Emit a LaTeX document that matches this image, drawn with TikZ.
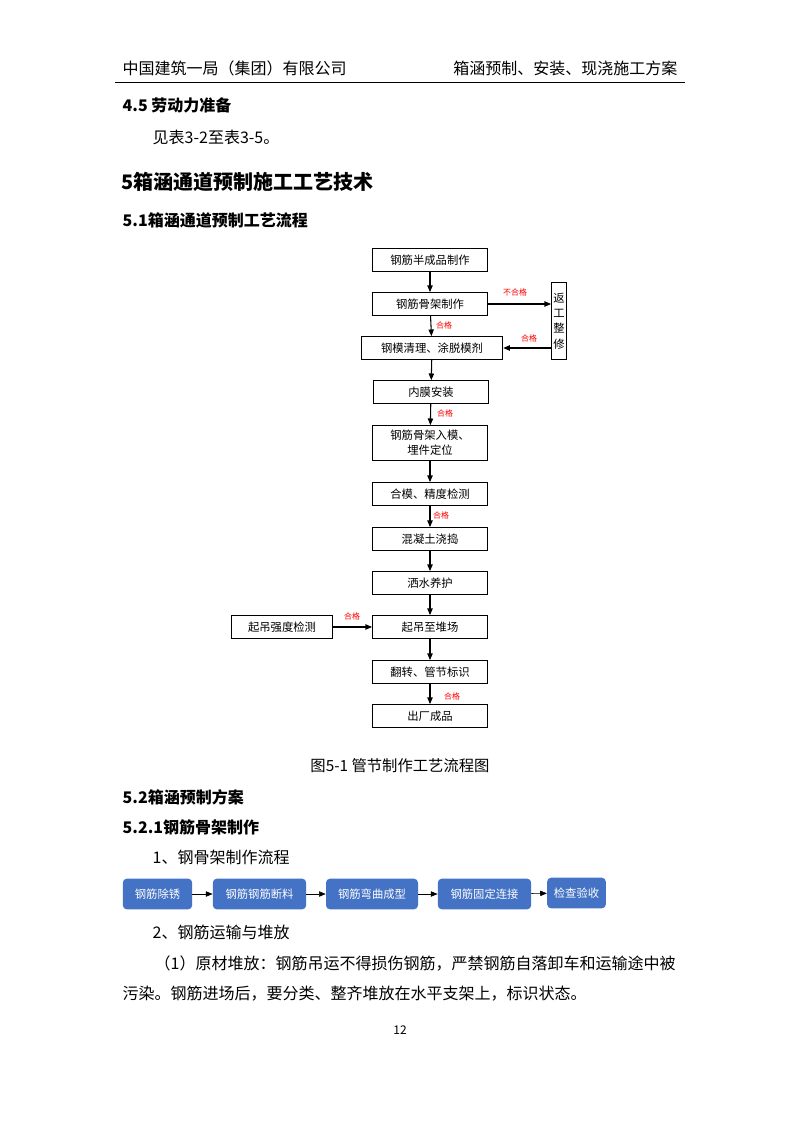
\documentclass[tikz,border=0pt]{standalone}
\usepackage{fontspec}
\setmainfont{Noto Sans CJK SC}
\usetikzlibrary{arrows.meta}
\definecolor{bx}{HTML}{4472C4}
\begin{document}
\begin{tikzpicture}[x=0.75pt,y=-0.75pt,
 fb/.style={draw,thick,minimum height=17pt,inner sep=1pt,font=\fontsize{8.5}{10}\selectfont},
 ok/.style={text=red,font=\fontsize{6}{7}\selectfont},
 ar/.style={-{Triangle[length=5pt,width=4pt]},thick},
 bb/.style={fill=bx,rounded corners=3pt,text=white,minimum height=23pt,inner sep=1pt,font=\fontsize{8.5}{10}\selectfont},
 body/.style={anchor=west,font=\fontsize{12}{14}\selectfont},
 hd/.style={anchor=west,font=\fontsize{12}{14}\selectfont\bfseries}]
\useasboundingbox (0,0) rectangle (800,1132);
\fill[white] (0,0) rectangle (800,1132);
\node[body] (h1) at (118,68) {中国建筑一局（集团）有限公司};
\node[body,anchor=east] (h2) at (682,68) {箱涵预制、安装、现浇施工方案};
\draw[thin] (115,82) -- (685,82);
\node[hd] (t1) at (118,105) {4.5 劳动力准备};
\node[body] (t2) at (148,137) {见表3-2至表3-5。};
\node[hd,font=\fontsize{15}{17}\selectfont\bfseries] (t3) at (117,182) {5箱涵通道预制施工工艺技术};
\node[hd] (t4) at (118,220) {5.1箱涵通道预制工艺流程};
% flowchart
\node[fb,minimum width=86pt] (b1) at (430,260) {钢筋半成品制作};
\node[fb,minimum width=86pt] (b2) at (430,304) {钢筋骨架制作};
\node[fb,minimum width=106pt] (b3) at (432,348) {钢模清理、涂脱模剂};
\node[fb,minimum width=86pt] (b4) at (431,392) {内膜安装};
\node[fb,minimum width=86pt,minimum height=26pt,align=center,font=\fontsize{8.5}{11}\selectfont] (b5) at (430,443) {钢筋骨架入模、\\埋件定位};
\node[fb,minimum width=86pt] (b6) at (430,494) {合模、精度检测};
\node[fb,minimum width=86pt] (b7) at (430,539) {混凝土浇捣};
\node[fb,minimum width=86pt] (b8) at (430,583) {洒水养护};
\node[fb,minimum width=86pt] (b9) at (430,627) {起吊至堆场};
\node[fb,minimum width=76pt] (bl) at (282,627) {起吊强度检测};
\node[fb,minimum width=86pt] (b10) at (430,672) {翻转、管节标识};
\node[fb,minimum width=86pt] (b11) at (430,716) {出厂成品};
\node[fb,minimum width=11pt,minimum height=58pt,align=center,inner sep=0pt,font=\fontsize{8.5}{11.5}\selectfont] (rb) at (559,321) {返\\工\\整\\修};
\draw[ar] (b1) -- (b2);
\draw[ar] (b2) -- (b3);
\draw[ar] (b3) -- (b4);
\draw[ar] (b4) -- (b5);
\draw[ar] (b5.south -| b6.north) -- (b6);
\draw[ar] (b6) -- (b7);
\draw[ar] (b7) -- (b8);
\draw[ar] (b8) -- (b9);
\draw[ar] (b9) -- (b10);
\draw[ar] (b10) -- (b11);
\draw[ar] (bl) -- (b9);
\draw[ar] (b2.east) -- (b2.east -| rb.west);
\draw[ar] (rb.west |- b3.east) -- (b3.east);
\node[ok] (o1) at (515,292) {不合格};
\node[ok] (o2) at (444,325) {合格};
\node[ok] (o3) at (529,338) {合格};
\node[ok] (o4) at (445,413) {合格};
\node[ok] (o5) at (441,515) {合格};
\node[ok] (o6) at (352,616) {合格};
\node[ok] (o7) at (452,696) {合格};
\node[font=\fontsize{11.5}{13}\selectfont] (cap) at (400,766) {图5-1 管节制作工艺流程图};
\node[hd] (t5) at (118,797) {5.2箱涵预制方案};
\node[hd] (t6) at (118,827) {5.2.1钢筋骨架制作};
\node[body] (t7) at (148,857) {1、钢骨架制作流程};
\node[bb,minimum width=52pt] (c1) at (157.5,894) {钢筋除锈};
\node[bb,minimum width=70pt] (c2) at (259.5,894) {钢筋钢筋断料};
\node[bb,minimum width=69pt] (c3) at (372,894) {钢筋弯曲成型};
\node[bb,minimum width=70pt] (c4) at (484.5,894) {钢筋固定连接};
\node[bb,minimum width=44pt] (c5) at (576.5,893) {检查验收};
\draw[ar,thin] (c1) -- (c2);
\draw[ar,thin] (c2) -- (c3);
\draw[ar,thin] (c3) -- (c4);
\draw[ar,thin] (c4) -- (c5);
\node[body] (t8) at (148,932) {2、钢筋运输与堆放};
\node[body] (t9) at (150,963) {（1）原材堆放：钢筋吊运不得损伤钢筋，严禁钢筋自落卸车和运输途中被};
\node[body] (t10) at (118,994) {污染。钢筋进场后，要分类、整齐堆放在水平支架上，标识状态。};
\node[font=\fontsize{9}{10}\selectfont] (pn) at (400,1030) {12};
\end{tikzpicture}
\end{document}
